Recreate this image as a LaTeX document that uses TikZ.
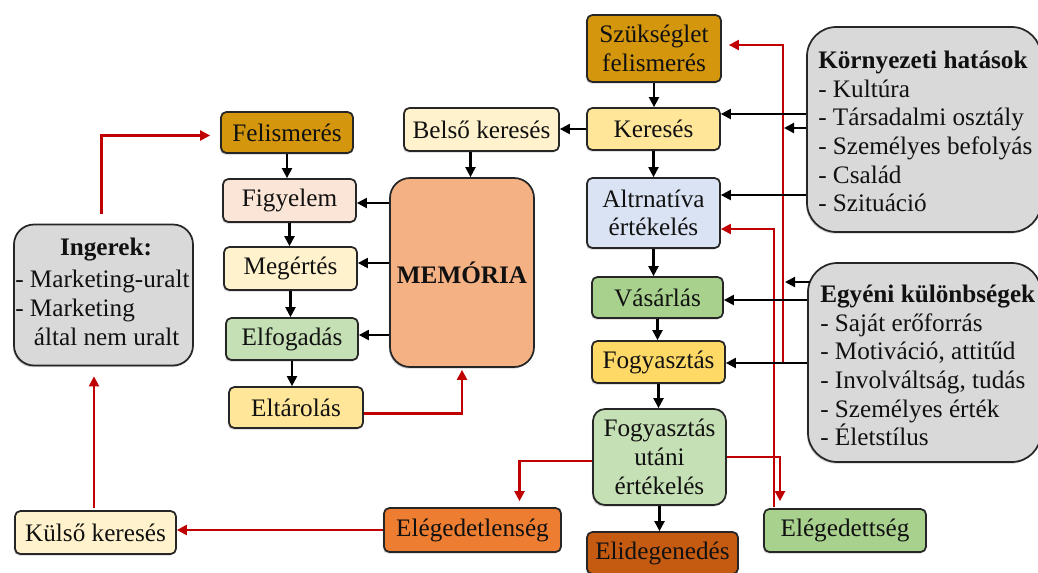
\documentclass[tikz,border=0pt]{standalone}
\usepackage{fontspec}
\setmainfont{Liberation Serif}
\usetikzlibrary{arrows.meta,shadows,calc}

\definecolor{gold}{RGB}{212,150,12}
\definecolor{kfill}{HTML}{FFE699}
\definecolor{cream}{HTML}{FFF2CC}
\definecolor{peach}{HTML}{FBE5D6}
\definecolor{lblue}{HTML}{DAE3F3}
\definecolor{green}{HTML}{A9D18E}
\definecolor{yellow}{HTML}{FFD966}
\definecolor{lgreen}{HTML}{C5E0B4}
\definecolor{salmon}{HTML}{F4B183}
\definecolor{orange}{HTML}{ED7D31}
\definecolor{rust}{HTML}{C55A11}
\definecolor{lgray}{HTML}{D9D9D9}
\definecolor{dred}{HTML}{C00000}
\definecolor{edge}{HTML}{262626}
\definecolor{ink}{HTML}{111111}

\newcommand\mainfs{\fontsize{18.9}{21.5}\selectfont}

\begin{document}
\begin{tikzpicture}[x=0.75pt,y=-0.75pt,
  wh/.style 2 args={minimum width=#1*0.75pt,minimum height=#2*0.75pt},
  box/.style={draw=edge,line width=1.3pt,rounded corners=4pt,inner sep=0pt,
    align=center,font=\mainfs,text=ink,
    drop shadow={shadow xshift=-0.8pt,shadow yshift=-1.3pt,opacity=0.35}},
  txt/.style={inner sep=0pt,align=left,font=\mainfs,text=ink},
  arr/.style={line width=1.6pt,draw=black,-{Triangle[length=7.5pt,width=7.5pt]}},
  rarr/.style={line width=1.6pt,draw=dred,-{Triangle[length=7.5pt,width=7.5pt]}}]

\useasboundingbox (0,0) rectangle (1038,572);
\clip (0,0) rectangle (1038,572);

% central purchase-decision column
\node[box,fill=gold,wh={134}{67}] (szuk) at (654,48.5) {Szükséglet\\felismerés};
\node[box,fill=kfill,wh={133}{42}] (keres) at (653.5,129) {Keresés};
\node[box,fill=lblue,wh={133}{70}] (altr) at (653.5,213) {Altrnatíva\\értékelés};
\node[box,fill=green,wh={131}{41}] (vasar) at (657.5,297.5) {Vásárlás};
\node[box,fill=yellow,wh={133}{42}] (fogy) at (658.5,362) {Fogyasztás};
\node[box,fill=lgreen,wh={133}{96},rounded corners=9pt] (fogyut) at (659.5,457) {Fogyasztás\\utáni\\értékelés};
\node[box,fill=rust,wh={151}{42}] (elid) at (662.5,553) {Elidegenedés};
\node[box,fill=green,wh={162}{43}] (eleg) at (845,530.5) {Elégedettség};
\node[box,fill=orange,wh={177}{44}] (elegt) at (472.5,530) {Elégedetlenség};
\node[box,fill=cream,wh={161}{43}] (kulso) at (95.5,532.5) {Külső keresés};

% information-processing column
\node[box,fill=gold,wh={132}{41}] (felism) at (287,132.5) {Felismerés};
\node[box,fill=cream,wh={155}{43}] (belso) at (481.5,129.5) {Belső keresés};
\node[box,fill=peach,wh={133}{43}] (figy) at (289.5,200.5) {Figyelem};
\node[box,fill=cream,wh={133}{43}] (meg) at (290.5,268.5) {Megértés};
\node[box,fill=lgreen,wh={132}{42}] (elfog) at (292,339) {Elfogadás};
\node[box,fill=kfill,wh={134}{41}] (eltar) at (296,407.5) {Eltárolás};
\node[box,fill=salmon,wh={144}{189},rounded corners=15pt] (mem) at (462,272.5) {\textbf{MEMÓRIA}};

% influence boxes
\node[box,fill=lgray,wh={179}{141},rounded corners=15pt] (ing) at (103.5,295) {};
\node[box,fill=lgray,wh={234}{205},rounded corners=22pt] (korny) at (924,129.5) {};
\node[box,fill=lgray,wh={233}{199},rounded corners=22pt] (egy) at (924.5,362.5) {};

\node[txt] (ingt) at (106,250) {\textbf{Ingerek:}};
\node[txt,anchor=west] (ingb) at (15,308) {- Marketing-uralt\\- Marketing\\\hspace*{14pt}által nem uralt};
\node[txt,anchor=west] (kornyt) at (818,131.5) {\textbf{Környezeti hatások}\\- Kultúra\\- Társadalmi osztály\\- Személyes befolyás\\- Család\\- Szituáció};
\node[txt,anchor=west] (egyt) at (820,365.5) {\textbf{Egyéni különbségek}\\- Saját erőforrás\\- Motiváció, attitűd\\- Involváltság, tudás\\- Személyes érték\\- Életstílus};

% feedback connectors
\draw[rarr] ($(ing.north)+(-2,-10)$) |- ($(felism.west)+(-10,3)$);
\draw[rarr] ($(kulso.north)+(-1.5,-2)$) -- ($(ing.south)+(-9.5,10)$);
\draw[rarr] (elegt.west) -- (kulso.east |- elegt.west);
\draw[rarr] ($(fogyut.west)+(0,4)$) -| ($(elegt.north)+(47,-6)$);
\draw[rarr] ($(eltar.east)+(0,6)$) -| ($(mem.south)+(0,2)$);
\draw[rarr] (fogyut.east) -| ($(eleg.north)+(-65,-7)$);
\draw[rarr] ($(eleg.north)+(-71,-1)$) |- ($(altr.east)+(0,16)$);
\coordinate (rfs) at (782.7,362.7);
\draw[rarr] (rfs) |- ($(szuk.east)+(7,-3.5)$);

% main flow
\draw[arr] (szuk.south) -- (szuk.south |- keres.north);
\draw[arr] (keres.south) -- (keres.south |- altr.north);
\draw[arr] (altr.south) -- (altr.south |- vasar.north);
\draw[arr] (vasar.south) -- (vasar.south |- fogy.north);
\draw[arr] (fogy.south) -- (fogy.south |- fogyut.north);
\draw[arr] (fogyut.south) -- (fogyut.south |- elid.north);
\draw[arr] (keres.west) -- (keres.west -| belso.east);
\path ([xshift=-8.25pt]belso.south) coordinate (bsx);
\draw[arr] (bsx) -- (bsx |- mem.north);

\draw[arr] (felism.south) -- (felism.south |- figy.north);
\draw[arr] (figy.south) -- (figy.south |- meg.north);
\draw[arr] (meg.south) -- (meg.south |- elfog.north);
\draw[arr] (elfog.south) -- (elfog.south |- eltar.north);
\draw[arr] (mem.west |- 0,203) -- (figy.east |- 0,203);
\draw[arr] (mem.west |- 0,263) -- (meg.east |- 0,263);
\draw[arr] (mem.west |- 0,335) -- (elfog.east |- 0,335);

% environmental and individual influences
\draw[arr] (korny.west |- 0,114) -- (keres.east |- 0,114);
\coordinate (kshort) at (784,128);
\draw[arr] (korny.west |- kshort) -- (kshort);
\draw[arr] (korny.west |- 0,195) -- (altr.east |- 0,195);
\coordinate (eshort) at (785,282);
\draw[arr] ([xshift=2pt]egy.west |- eshort) -- (eshort);
\draw[arr] (egy.west |- 0,300) -- (vasar.east |- 0,300);
\draw[arr] (egy.west |- 0,363) -- (fogy.east |- 0,363);
\end{tikzpicture}
\end{document}
